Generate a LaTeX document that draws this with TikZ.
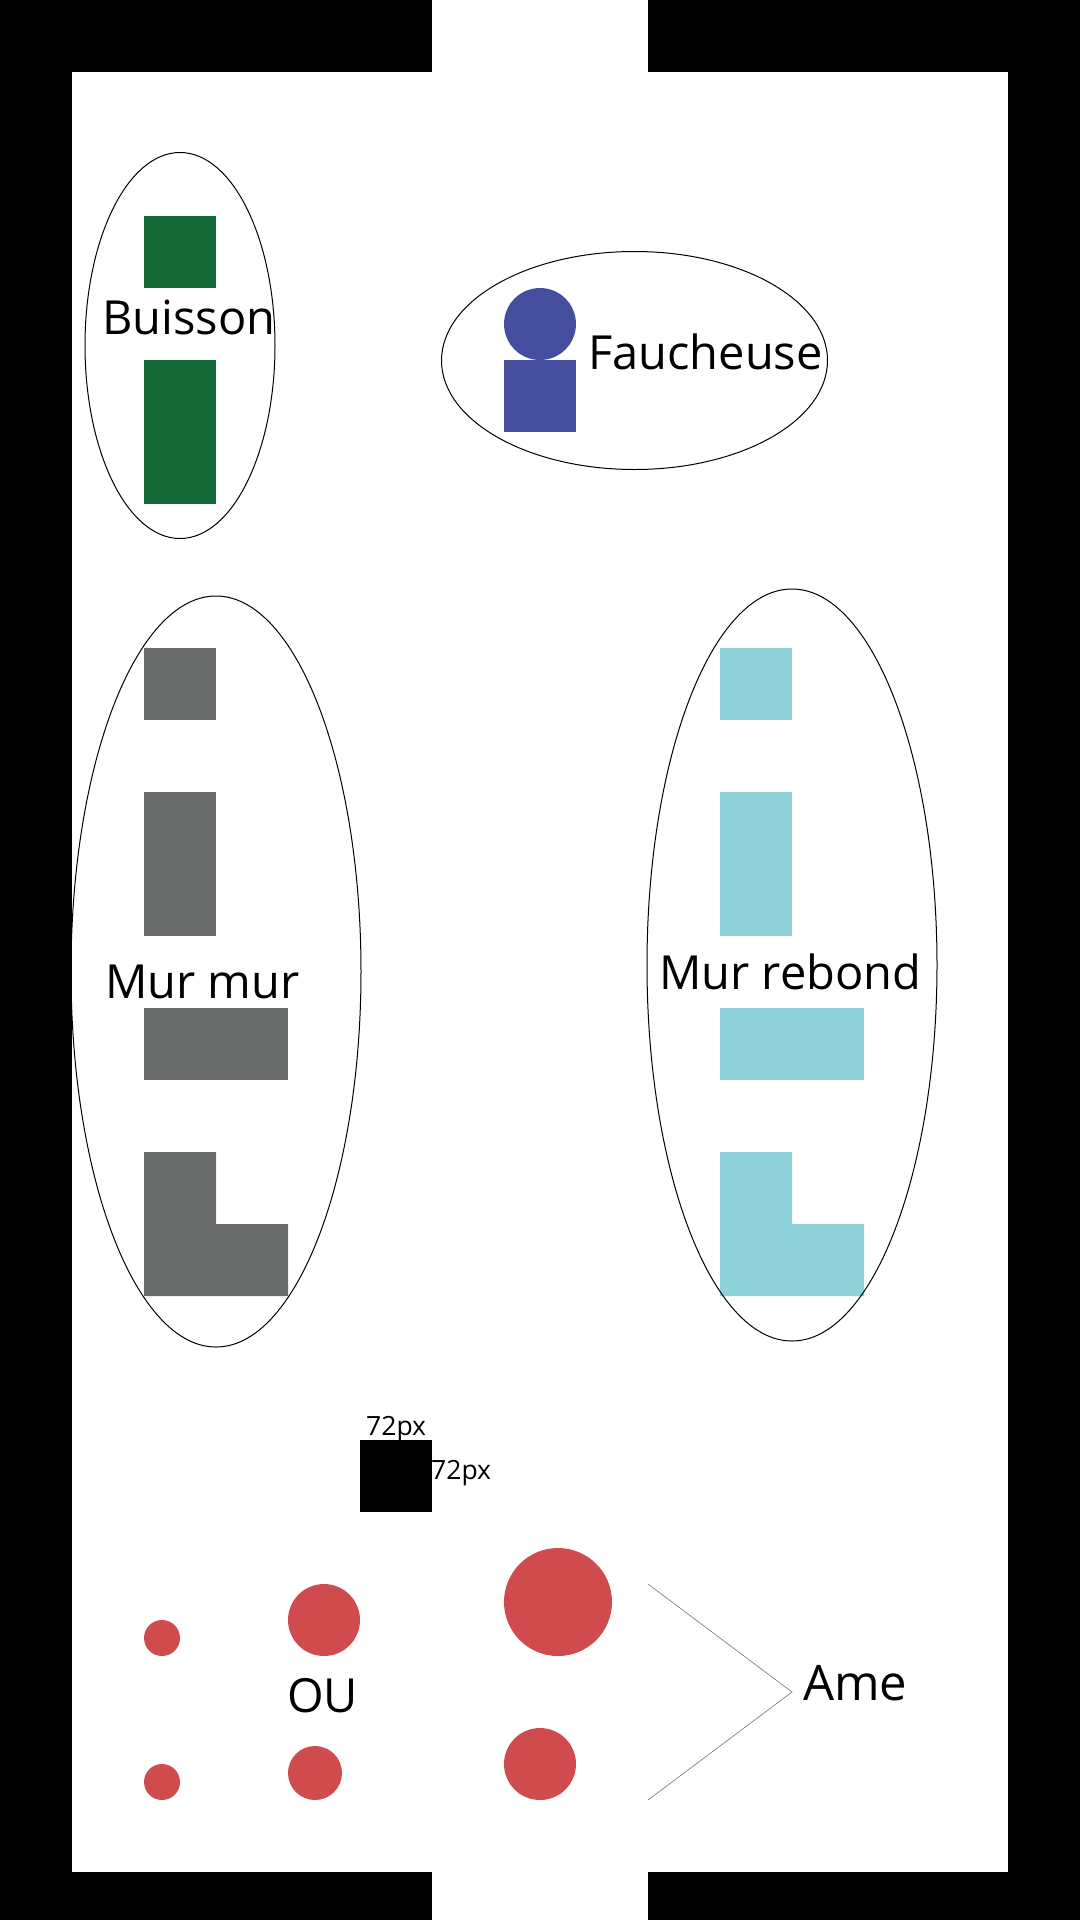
\documentclass[tikz,border=0pt]{standalone}
\usepackage{fontspec}
\setmainfont{Open Sans}
\usepackage{tikz}
\usetikzlibrary{positioning}
\definecolor{buisson}{HTML}{156936}
\definecolor{faucheuse}{HTML}{454E9E}
\definecolor{murmur}{HTML}{6A6C6B}
\definecolor{rebond}{HTML}{8FD1D9}
\definecolor{ame}{HTML}{D04B4E}
\tikzset{
  zone/.style={draw=black,line width=1pt},
  titre/.style={inner sep=0pt,anchor=base west,font=\fontsize{47}{56}\selectfont},
  cote/.style={inner sep=0pt,anchor=base west,font=\fontsize{26.5}{30}\selectfont},
}
\begin{document}
\begin{tikzpicture}[x=1pt,y=-1pt]
\useasboundingbox (0,0) rectangle (1080,1920);
%murs du tour
\foreach \xa/\ya/\xb/\yb in {0/0/432/72,648/0/1080/72,0/1872/432/1920,648/1872/1080/1920,0/0/72/1920,1008/0/1080/1920}{
\fill[black] (\xa,\ya) rectangle (\xb,\yb);
}
%Buisson
\fill[buisson] (144,216) rectangle (216,288);
\fill[buisson] (144,360) rectangle (216,504);
\draw[zone] (180,345.5) ellipse [x radius=95,y radius=193];
\node[titre] (buissonT) at (102,334) {Buisson};
%Faucheuse
\fill[faucheuse] (540,324) circle [radius=36];
\fill[faucheuse] (504,360) rectangle (576,432);
\draw[zone] (634.5,360.5) ellipse [x radius=193,y radius=109];
\node[titre] (faucheuseT) at (588,369) {Faucheuse};
%les deux familles de murs
\foreach \xo/\coul in {144/murmur,720/rebond}{
\fill[\coul] (\xo,648) rectangle ++(72,72);
\fill[\coul] (\xo,792) rectangle ++(72,144);
\fill[\coul] (\xo,1008) rectangle ++(144,72);
\fill[\coul] (\xo,1152) -- ++(72,0) -- ++(0,72) -- ++(72,0) -- ++(0,72) -- ++(-144,0) -- cycle;
}
\draw[zone] (216,971.5) ellipse [x radius=145,y radius=375.5];
\draw[zone] (792,965) ellipse [x radius=145,y radius=376];
\node[titre] (murmurT) at (105,998) {Mur mur};
\node[titre] (rebondT) at (659,989) {Mur rebond};
%echelle
\fill[black] (360,1440) rectangle (432,1512);
\node[cote] (coteH) at (366,1435) {72px};
\node[cote] (coteV) at (431,1479) {72px};
%Ames
\foreach \cx/\cy/\r in {162/1638/18,162/1782/18,324/1620/36,315/1773/27,558/1602/54,540/1764/36}{
\fill[ame] (\cx,\cy) circle [radius=\r];
}
\node[titre] (ouT) at (287,1712) {OU};
\node[titre,font=\fontsize{49}{56}\selectfont] (ameT) at (803,1700) {Ame};
\coordinate (hautA) at (648,1584);
\coordinate (pointeA) at (792,1692);
\coordinate (basA) at (648,1800);
\draw[gray!90,line width=0.8pt] (hautA) -- (pointeA) -- (basA);
\end{tikzpicture}
\end{document}
